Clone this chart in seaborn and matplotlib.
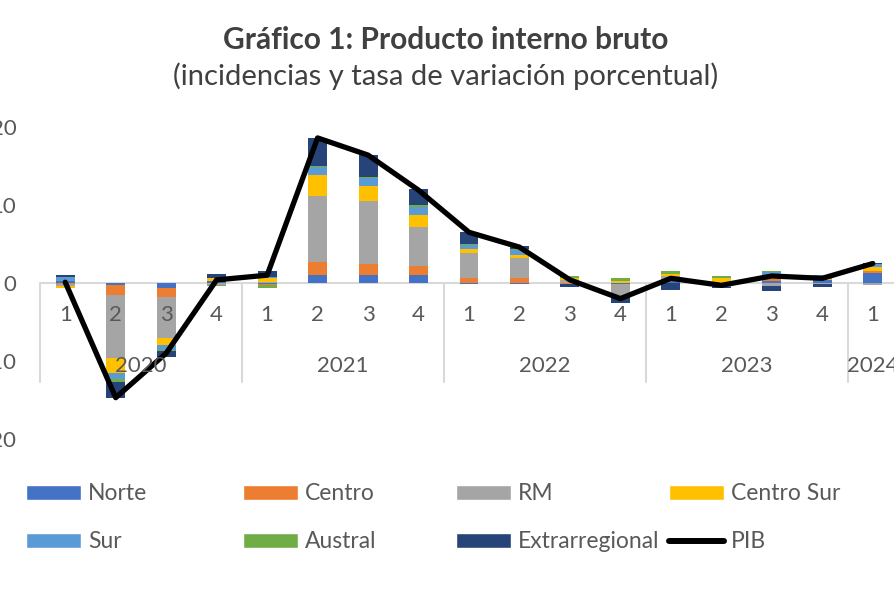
import numpy as np
import pandas as pd
import matplotlib.pyplot as plt
import seaborn as sns
from matplotlib.patches import Patch
from matplotlib.lines import Line2D

# Data: incidencias por macrozona (puntos porcentuales) y PIB (%)
years = ['2020', '2021', '2022', '2023', '2024']
quarters = ['1', '2', '3', '4'] * 4 + ['1']
periods = [f'{y}-{q}' for y in years[:4] for q in ['1', '2', '3', '4']] + ['2024-1']

regions = ['Norte', 'Centro', 'RM', 'Centro Sur', 'Sur', 'Austral', 'Extrarregional']
norte = [0.3, -0.3, -0.6, 0.2, -0.1, 1.0, 1.0, 1.0, -0.1, -0.1, 0.0, -0.1, 0.2, -0.2, 0.2, 0.4, 1.3]
centro = [-0.1, -1.2, -1.2, 0.1, -0.2, 1.7, 1.4, 1.2, 0.6, 0.6, -0.1, 0.0, 0.1, 0.0, 0.3, 0.0, 0.3]
rm = [-0.3, -8.1, -5.3, -0.2, 0.1, 8.4, 8.1, 5.0, 3.2, 2.6, 0.4, -1.6, 0.6, -0.3, -0.4, -0.1, -0.2]
centro_sur = [-0.2, -1.9, -0.9, 0.3, 0.5, 2.7, 1.9, 1.5, 0.6, 0.4, 0.2, 0.2, 0.3, 0.6, 0.5, 0.1, 0.4]
sur = [0.5, -0.8, -0.6, 0.1, 0.2, 1.1, 1.0, 1.0, 0.5, 0.6, 0.0, -0.1, 0.0, 0.0, 0.4, 0.5, 0.4]
austral = [-0.1, -0.4, -0.1, -0.2, -0.3, 0.1, 0.2, 0.3, 0.1, 0.1, 0.3, 0.4, 0.3, 0.3, 0.1, 0.0, 0.1]
extrarregional = [0.2, -2.0, -0.8, 0.5, 0.8, 3.6, 2.8, 2.0, 1.5, 0.4, -0.4, -0.7, -0.9, -0.2, -0.6, -0.4, 0.1]
pib = [0.1, -14.7, -9.0, 0.4, 1.0, 18.6, 16.4, 11.9, 6.5, 4.6, 0.4, -2.0, 0.6, -0.3, 0.9, 0.6, 2.5]

colors = ['#4472C4', '#ED7D31', '#A5A5A5', '#FFC000', '#5B9BD5', '#70AD47', '#264478']

sns.set_style('white')
plt.rcParams['font.family'] = ['Lato', 'DejaVu Sans']
text_col = '#595959'

df = pd.DataFrame(dict(zip(regions, [norte, centro, rm, centro_sur, sur, austral, extrarregional])),
                  index=periods)
pos_cum = df.clip(lower=0).cumsum(axis=1)
neg_cum = df.clip(upper=0).cumsum(axis=1)

fig = plt.figure(figsize=(8.94, 5.96), dpi=100)
ax = fig.add_axes([40 / 894, 1 - 439 / 596, 858 / 894, 312 / 596])

# stacked bars: draw cumulative totals from outermost layer inwards
for i in range(len(regions) - 1, -1, -1):
    for cum in (pos_cum, neg_cum):
        sns.barplot(x=periods, y=cum[regions[i]].values, order=periods, color=colors[i],
                    saturation=1, width=0.376, linewidth=0, ax=ax)

ax.axhline(0, color='#D9D9D9', lw=1.5, zorder=0.5)
sns.lineplot(x=np.arange(len(periods)), y=pib, color='black', lw=3.8, ax=ax,
             solid_capstyle='round', zorder=5)

ax.set_ylim(-20, 20)
ax.set_xlim(-0.5, len(periods) - 0.5)
ax.set_yticks([-20, -10, 0, 10, 20])
ax.set_yticklabels(['-20', '-10', '0', '10', '20'])
ax.tick_params(axis='y', length=0, pad=17, labelsize=16, labelcolor=text_col)
ax.set_xticks([])
ax.set_xlabel('')
sns.despine(ax=ax, left=True, bottom=True)

# category labels (quarters and years)
for i, q in enumerate(quarters):
    ax.text(i, -4.1, q, ha='center', va='center', fontsize=16, color=text_col)
starts = [0, 4, 8, 12, 16]
for k, y in enumerate(years):
    s = starts[k]
    e = starts[k + 1] if k + 1 < len(starts) else len(periods)
    ax.text((s + e - 1) / 2, -10.6, y, ha='center', va='center', fontsize=16,
            color=text_col, zorder=6)
    ax.plot([s - 0.5, s - 0.5], [0, -12.7], color='#D9D9D9', lw=1.5, clip_on=False, zorder=0.5)

fig.text(0.498, 1 - 40 / 596, 'Gráfico 1: Producto interno bruto', ha='center', va='center',
         fontsize=21.5, fontweight='bold', color='#404040')
fig.text(0.499, 1 - 76 / 596, '(incidencias y tasa de variación porcentual)', ha='center',
         va='center', fontsize=21, color='#404040')

# legend: one entry per slot so the columns sit on an even grid
handles = [Patch(facecolor=c, label=r) for c, r in zip(colors, regions)]
handles.append(Line2D([0], [0], color='black', lw=4.3, label='PIB'))
col_x = [26, 243, 456, 669]
row_y = [494, 542]
fs = 16.5
for n, h in enumerate(handles):
    lx = col_x[n % 4] if n < 4 else col_x[(n - 4) % 4]
    ly = row_y[0] if n < 4 else row_y[1]
    fig.legend([h], [h.get_label()], loc='center left',
               bbox_to_anchor=(lx / 894, 1 - ly / 596), frameon=False, fontsize=fs,
               labelcolor=text_col, handlelength=55 / (fs * 1.389),
               handleheight=15 / (fs * 1.389), handletextpad=0.3,
               borderpad=0, borderaxespad=0)

fig.savefig('out.png', dpi=100)
